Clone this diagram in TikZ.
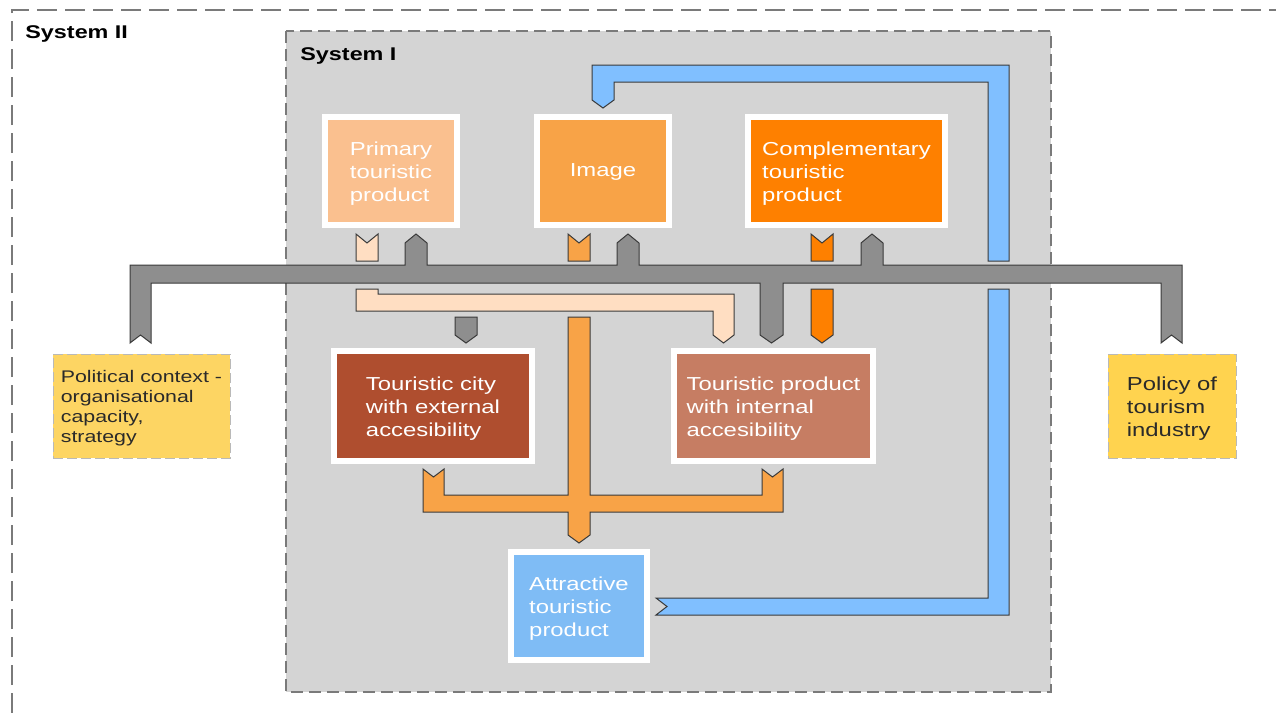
\documentclass[tikz,border=0pt]{standalone}
\usepackage{fontspec}
\setmainfont{Liberation Sans}[FakeStretch=1.27]
\newcommand\boxfont{\fontsize{9.4pt}{11.5pt}\selectfont}
\newcommand\smallboxfont{\fontsize{8.4pt}{10pt}\selectfont}
\newcommand\sysfont{\fontsize{9.2pt}{11pt}\selectfont\bfseries}
\definecolor{sysfill}{HTML}{D4D4D4}
\definecolor{sysline}{HTML}{7A7A7A}
\definecolor{linec}{HTML}{3A3A3A}
\definecolor{cPrim}{HTML}{FAC08F}
\definecolor{cImg}{HTML}{F8A347}
\definecolor{cComp}{HTML}{FE8000}
\definecolor{cCity}{HTML}{AF4E2F}
\definecolor{cInt}{HTML}{C67D63}
\definecolor{cAttr}{HTML}{7FBCF5}
\definecolor{cPol}{HTML}{FDD563}
\definecolor{cPolicy}{HTML}{FFD34F}
\definecolor{cPeach}{HTML}{FFDEC2}
\definecolor{cBus}{HTML}{8E8E8E}
\definecolor{cBlue}{HTML}{80BFFF}
\definecolor{txtdark}{HTML}{2A2A2A}
\begin{document}
\begin{tikzpicture}[x=0.5pt,y=-0.5pt,
  box/.style={draw=white, line width=3pt, inner sep=0pt},
  boxtext/.style={text=white, align=left, font=\boxfont, inner sep=0pt},
  ylwbox/.style={draw=gray!55, dash pattern=on 5pt off 2pt, line width=0.5pt, inner sep=0pt},
  ylwtext/.style={text=txtdark, align=left, inner sep=0pt},
  conn/.style={draw=linec, line width=0.5pt, line join=miter},
  syslabel/.style={anchor=base west, font=\sysfont, text=black, inner sep=0pt}
]
\useasboundingbox (0,0) rectangle (1276,713);
% System II frame
\draw[sysline, line width=0.6pt, dash pattern=on 10pt off 4pt] (12,713) -- (12,10) -- (1276,10);
\node[syslabel] (sys2) at (25,38) {System II};
% System I frame
\draw[sysline, fill=sysfill, line width=0.6pt, dash pattern=on 6pt off 3pt] (286,31) rectangle (1051,692);
\node[syslabel] (sys1) at (300,60) {System I};

% Boxes
\node[box, fill=cPrim, minimum width=66pt, minimum height=54pt] (prim) at (391,171) {};
\node[boxtext] (primT) at ([yshift=-1.5pt]prim.center) {Primary\\touristic\\product};
\node[box, fill=cImg, minimum width=66pt, minimum height=54pt] (img) at (603,171) {};
\node[boxtext] (imgT) at ([yshift=-0.5pt]img.center) {Image};
\node[box, fill=cComp, minimum width=98.5pt, minimum height=54pt] (comp) at (846.5,171) {};
\node[boxtext] (compT) at ([yshift=-1.5pt]comp.center) {Complementary\\touristic\\product};
\node[box, fill=cCity, minimum width=99pt, minimum height=55pt] (city) at (433,406) {};
\node[boxtext] (cityT) at ([yshift=-1.5pt]city.center) {Touristic city\\with external\\accesibility};
\node[box, fill=cInt, minimum width=99.5pt, minimum height=55pt] (int) at (773.5,406) {};
\node[boxtext] (intT) at ([yshift=-1.5pt]int.center) {Touristic product\\with internal\\accesibility};
\node[box, fill=cAttr, minimum width=68pt, minimum height=54pt] (attr) at (579,606) {};
\node[boxtext] (attrT) at ([yshift=-1.5pt]attr.center) {Attractive\\touristic\\product};
\node[ylwbox, fill=cPol, minimum width=88.5pt, minimum height=52pt] (pol) at (141.5,406) {};
\node[ylwtext, font=\smallboxfont] (polT) at ([yshift=-1pt]pol.center) {Political context -\\organisational\\capacity,\\strategy};
\node[ylwbox, fill=cPolicy, minimum width=64pt, minimum height=52pt] (policy) at (1172,406) {};
\node[ylwtext, font=\boxfont] (policyT) at ([yshift=-1.5pt]policy.center) {Policy of\\tourism\\industry};

% Gray bus
\draw[conn, fill=cBus] (130,343) -- (130,265) -- (405,265) -- (405,243) -- (416,234) -- (427,243) -- (427,265)
  -- (617,265) -- (617,243) -- (628,234) -- (639,243) -- (639,265)
  -- (861,265) -- (861,243) -- (872,234) -- (883,243) -- (883,265)
  -- (1182,265) -- (1182,343) -- (1171.5,335) -- (1161,343) -- (1161,283)
  -- (783,283) -- (783,335) -- (771.5,343) -- (760,335) -- (760,283)
  -- (151,283) -- (151,343) -- (140.5,335) -- cycle;
\draw[conn, fill=cBus] (455,317) -- (477,317) -- (477,335) -- (466,343) -- (455,335) -- cycle;

% Primary -> internal (peach)
\draw[conn, fill=cPeach] (356,234) -- (367,243) -- (378,234) -- (378,261) -- (356,261) -- cycle;
\draw[conn, fill=cPeach] (356,289) -- (378,289) -- (378,294) -- (734,294) -- (734,335) -- (723.5,343)
  -- (713,335) -- (713,311) -- (356,311) -- cycle;

% Image tail
\draw[conn, fill=cImg] (568,234) -- (579,243) -- (590,234) -- (590,261) -- (568,261) -- cycle;
% Complementary -> internal
\draw[conn, fill=cComp] (811,234) -- (822,243) -- (833,234) -- (833,261) -- (811,261) -- cycle;
\draw[conn, fill=cComp] (811,289) -- (833,289) -- (833,335) -- (822,343) -- (811,335) -- cycle;

% Orange collector into attractive
\draw[conn, fill=cImg] (568,317) -- (590,317) -- (590,495) -- (762,495) -- (762,469) -- (772.5,477) -- (783,469)
  -- (783,512) -- (590,512) -- (590,535) -- (579,543) -- (568,535) -- (568,512)
  -- (423,512) -- (423,469) -- (433.5,477) -- (444,469) -- (444,495) -- (568,495) -- cycle;

% Blue feedback
\draw[conn, fill=cBlue] (656,598) -- (667,606.5) -- (656,615) -- (1009,615) -- (1009,289) -- (988,289) -- (988,598) -- cycle;
\draw[conn, fill=cBlue] (988,261) -- (1009,261) -- (1009,65) -- (592,65) -- (592,100) -- (603,108) -- (614,100)
  -- (614,82) -- (988,82) -- cycle;
\end{tikzpicture}
\end{document}
